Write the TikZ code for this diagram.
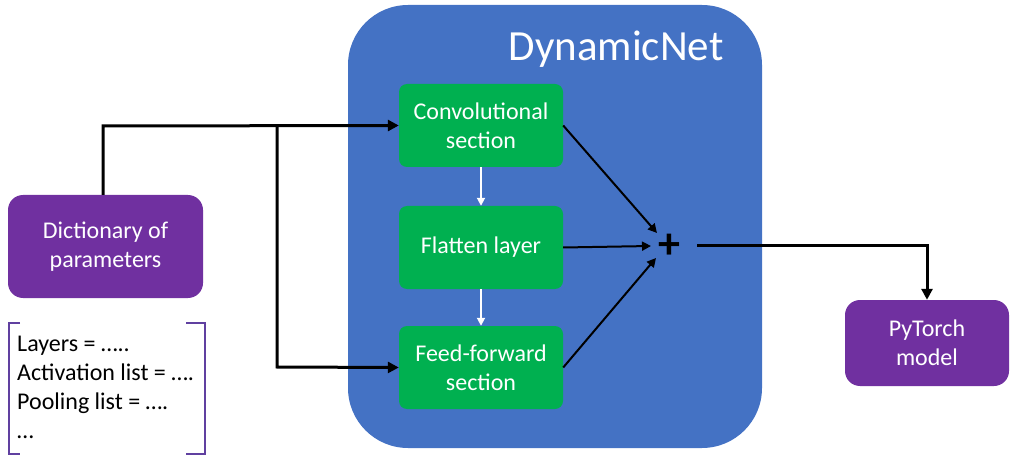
\documentclass[tikz,border=0pt]{standalone}
\usepackage{fontspec}
\setmainfont{Carlito}
\usetikzlibrary{arrows.meta,calc}
\definecolor{netblue}{HTML}{4472C4}
\definecolor{secgreen}{HTML}{00B050}
\definecolor{boxpurple}{HTML}{7030A0}
\definecolor{brpurple}{HTML}{6040A0}
\tikzset{
  secbox/.style={fill=secgreen, rounded corners=8pt, minimum width=164pt, minimum height=83pt, text=white, align=center, font=\fontsize{24}{29}\selectfont, inner sep=0pt},
  purbox/.style={fill=boxpurple, rounded corners=15pt, text=white, align=center, font=\fontsize{24}{29}\selectfont, inner sep=0pt},
  thick arrow/.style={line width=3pt, -{Triangle[length=11pt,width=11pt]}},
  thin arrow/.style={line width=2pt, -{Triangle[length=9pt,width=9pt]}},
  white arrow/.style={white, line width=1.8pt, -{Triangle[length=8pt,width=8pt]}},
}
\begin{document}
\begin{tikzpicture}[x=1pt,y=-1pt]
\useasboundingbox (0,0) rectangle (1014,462);
% DynamicNet container
\node[fill=netblue, rounded corners=60pt, minimum width=414pt, minimum height=443pt, inner sep=0pt] (net) at (555,226.5) {};
\node[text=white, font=\fontsize{43}{46}\selectfont, inner sep=0pt] (title) at (616,49) {DynamicNet};
% sections
\node[secbox] (conv) at (481,125.5) {Convolutional\\section};
\node[secbox] (flat) at (481,247.5) {Flatten layer};
\node[secbox] (ff) at (481,367.5) {Feed-forward\\section};
% purple boxes
\node[purbox, minimum width=195pt, minimum height=103pt] (dict) at (105.5,246.5) {Dictionary of\\parameters};
\node[purbox, minimum width=164pt, minimum height=86pt] (torch) at (927,343) {PyTorch\\model};
% plus
\node[font=\fontsize{44}{44}\selectfont\bfseries, inner sep=0pt] (plus) at (669,246) {+};
% parameter list
\node[anchor=north west, align=left, font=\fontsize{24}{29}\selectfont, inner sep=0pt] (plist) at (17,336) {Layers = …..\\Activation list = ….\\Pooling list = ….\\…};
\draw[brpurple, line width=2pt] (20,323) -- (9,323) -- (9,454) -- (20,454);
\draw[brpurple, line width=2pt] (186,323) -- (205,323) -- (205,454) -- (186,454);
% white arrows
\draw[white arrow] (conv.south) -- (flat.north);
\draw[white arrow] (flat.south) -- (ff.north);
% input arrows
\coordinate (br) at (277,126);
\draw[thick arrow] (dict.north -| 103,0) -- (103,126) -- (conv.west);
\draw[thick arrow] (br) -- (277,367) -- (ff.west);
% into plus
\coordinate (pin1) at (657,233);
\coordinate (pin2) at (651,246);
\coordinate (pin3) at (656,258);
\draw[thin arrow] (conv.east) -- (pin1);
\draw[thin arrow] (flat.east) -- (pin2);
\draw[thin arrow] (ff.east) -- (pin3);
% output
\coordinate (pout) at (697,246);
\draw[thick arrow] (pout) -- (torch.north |- pout) -- (torch.north);
\end{tikzpicture}
\end{document}
